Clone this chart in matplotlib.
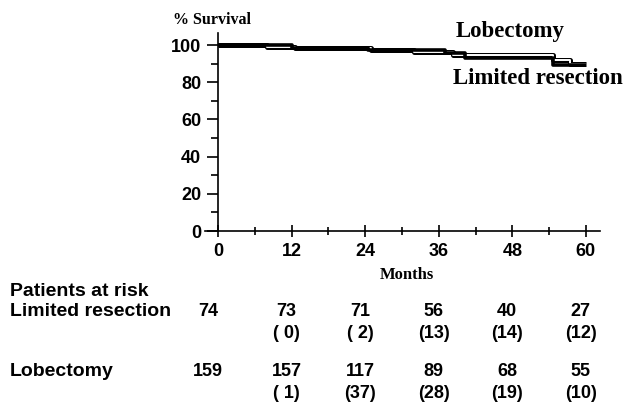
import matplotlib
matplotlib.use("Agg")
import matplotlib.pyplot as plt
from matplotlib.ticker import MultipleLocator

# Kaplan-Meier step data
lim_t = [0, 12, 24.5, 37, 40.3, 54.7, 60]
lim_s = [100, 98.6, 97.3, 96.0, 93.0, 89.5, 89.5]
lob_t = [0, 8, 12.5, 25, 32, 38.4, 54.7, 57.4, 60]
lob_s = [100, 99.2, 98.6, 97.3, 96.3, 94.6, 91.8, 89.6, 89.6]

months = [0, 12, 24, 36, 48, 60]
risk_limited = ["74", "73", "71", "56", "40", "27"]
cens_limited = ["", "( 0)", "( 2)", "(13)", "(14)", "(12)"]
risk_lobect = ["159", "157", "117", "89", "68", "55"]
cens_lobect = ["", "( 1)", "(37)", "(28)", "(19)", "(10)"]

W, H = 627, 405
fig = plt.figure(figsize=(W / 100, H / 100), dpi=100)
ax = fig.add_axes([218 / W, 1 - 231 / H, (600 - 218) / W, (231 - 33) / H])
ax.set_xlim(0, 62.3)
ax.set_ylim(0, 106.5)

ax.step(lob_t, lob_s, where="post", color="black", lw=3.6, solid_capstyle="butt", zorder=3)
ax.step(lob_t, lob_s, where="post", color="white", lw=1.4, solid_capstyle="butt", zorder=4)
ax.step(lim_t, lim_s, where="post", color="black", lw=2.6, solid_capstyle="butt", zorder=5)

for s in ["top", "right"]:
    ax.spines[s].set_visible(False)
ax.spines["left"].set_linewidth(1.2)
ax.spines["bottom"].set_linewidth(1.2)
ax.spines["bottom"].set_bounds(-2.1, 62.3)
ax.spines["bottom"].set_clip_on(False)

ax.set_xticks(months)
ax.xaxis.set_minor_locator(MultipleLocator(6))
ax.set_yticks([0, 20, 40, 60, 80, 100])
ax.yaxis.set_minor_locator(MultipleLocator(10))
ax.tick_params(axis="x", which="major", direction="inout", length=9, width=1.2, pad=4)
ax.tick_params(axis="x", which="minor", direction="inout", length=6, width=1.2)
ax.tick_params(axis="y", which="major", direction="out", length=8, width=1.2, pad=4)
ax.tick_params(axis="y", which="minor", direction="out", length=5, width=1.2)
for lab in ax.get_xticklabels() + ax.get_yticklabels():
    lab.set_fontfamily("Liberation Sans")
    lab.set_fontweight("bold")
    lab.set_fontsize(13)

serif = "Liberation Serif"
fig.text(173 / W, 1 - 20 / H, "% Survival", family=serif, weight="bold", fontsize=11.5, va="center", ha="left")
fig.text(510 / W, 1 - 31 / H, "Lobectomy", family=serif, weight="bold", fontsize=16.5, va="center", ha="center")
fig.text(538 / W, 1 - 78 / H, "Limited resection", family=serif, weight="bold", fontsize=16.5, va="center", ha="center")
fig.text(407 / W, 1 - 275 / H, "Months", family=serif, weight="bold", fontsize=12, va="center", ha="center")

sans = "Liberation Sans"
kw_lab = dict(family=sans, weight="bold", fontsize=14, va="center", ha="left")
kw = dict(family=sans, weight="bold", fontsize=13, va="center", ha="center")
fig.text(10 / W, 1 - 292 / H, "Patients at risk", **kw_lab)
fig.text(10 / W, 1 - 312 / H, "Limited resection", **kw_lab)
fig.text(10 / W, 1 - 372 / H, "Lobectomy", **kw_lab)

def xpix(m):
    return (218 + m * (585.7 - 218) / 60 - 5) / W

for i, m in enumerate(months):
    x = 208 / W if m == 0 else xpix(m)
    fig.text(x, 1 - 312 / H, risk_limited[i], **kw)
    fig.text(x, 1 - 372 / H, risk_lobect[i], **kw)
    if cens_limited[i]:
        fig.text(x, 1 - 333 / H, cens_limited[i], **kw)
    if cens_lobect[i]:
        fig.text(x, 1 - 393 / H, cens_lobect[i], **kw)

fig.savefig("out.png", dpi=100)
